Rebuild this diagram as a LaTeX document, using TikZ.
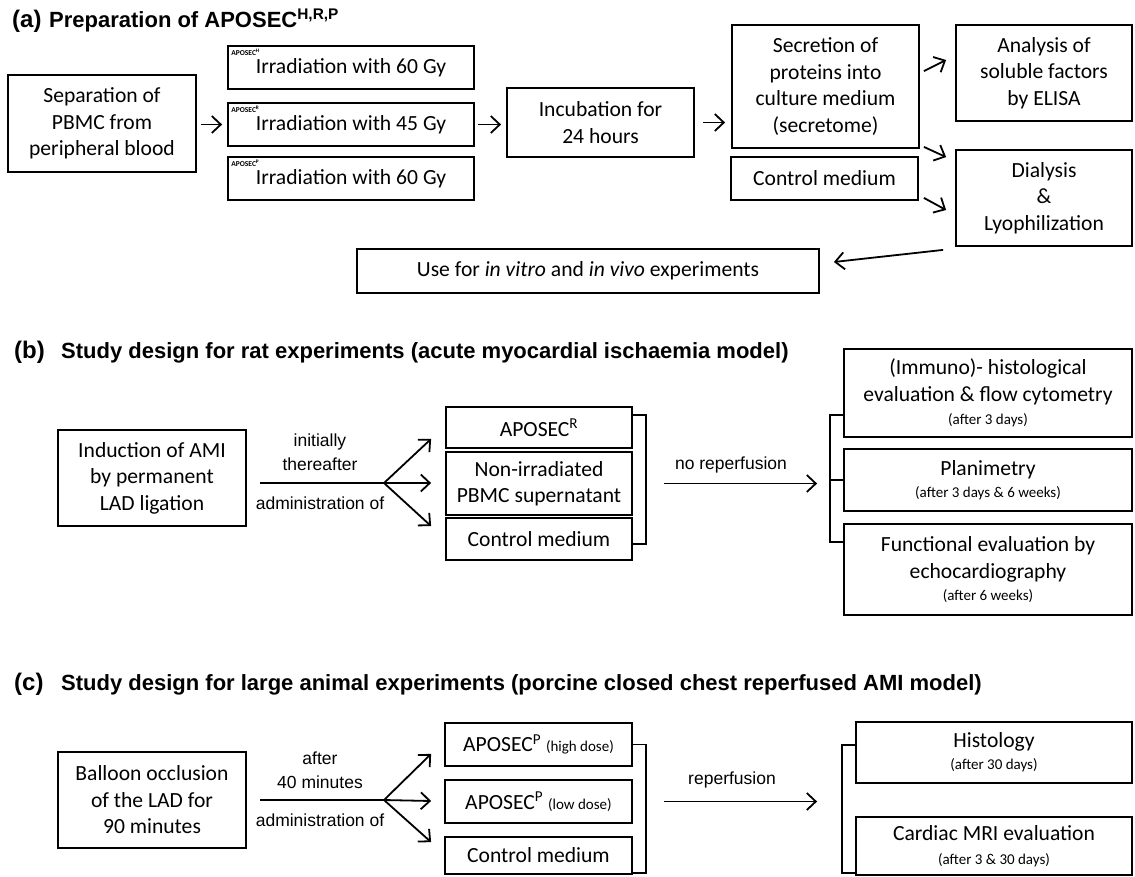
\documentclass[tikz,border=0pt]{standalone}
\usepackage{fontspec}
\setmainfont{Carlito}
\newfontfamily\arialfam{Liberation Sans}
\usetikzlibrary{arrows.meta,calc}
\newcommand\mainsz{\fontsize{21.6}{26.5}\selectfont}
\newcommand\smallsz{\fontsize{15}{18}\selectfont}
\newcommand\tinysz{\fontsize{7.5}{8}\selectfont}
\newcommand\labsz{\arialfam\fontsize{17.5}{24}\selectfont}
\newcommand\titlesz{\arialfam\bfseries\fontsize{22}{24}\selectfont}
\newcommand\tagsz{\arialfam\bfseries\fontsize{24}{26}\selectfont}
\begin{document}
\begin{tikzpicture}[x=1pt,y=-1pt,
  box/.style={draw, line width=1.8pt, inner sep=0pt, align=center, font=\mainsz},
  arr/.style={line width=1.8pt, -{Straight Barb[length=9pt,width=17pt]}},
  brk/.style={line width=1.8pt},
  plain/.style={line width=1.8pt},
  lbl/.style={font=\labsz, inner sep=0pt, align=center},
  tag/.style={font=\tagsz, inner sep=0pt, anchor=base west},
  ttl/.style={font=\titlesz, inner sep=0pt, anchor=base west},
  apo/.style={font=\tinysz\bfseries, inner sep=0pt, anchor=north west}]
\fill[white] (0,0) rectangle (1135,876);
\useasboundingbox (0,0) rectangle (1135,876);

% ---------------- (a) ----------------
\node[tag] (taga) at (12,27) {(a)};
\node[ttl] (ttla) at (49,27) {Preparation of APOSEC\textsuperscript{H,R,P}};

\node[box, minimum width=188pt, minimum height=97pt] (sep) at (102,123.5) {Separation of\\PBMC from\\peripheral blood};
\node[box, minimum width=246pt, minimum height=43pt] (irr1) at (351,67.5) {\raisebox{-2.5pt}{Irradiation with 60 Gy}};
\node[box, minimum width=246pt, minimum height=43pt] (irr2) at (351,124.5) {\raisebox{-2.5pt}{Irradiation with 45 Gy}};
\node[box, minimum width=246pt, minimum height=43pt] (irr3) at (351,178.5) {\raisebox{-2.5pt}{Irradiation with 60 Gy}};
\node[apo] (apo1) at ($(irr1.north west)+(4,4)$) {APOSEC\textsuperscript{H}};
\node[apo] (apo2) at ($(irr2.north west)+(4,4)$) {APOSEC\textsuperscript{R}};
\node[apo] (apo3) at ($(irr3.north west)+(4,4)$) {APOSEC\textsuperscript{P}};
\node[box, minimum width=187pt, minimum height=69pt] (incub) at (600.5,122.5) {Incubation for\\24 hours};
\node[box, minimum width=187pt, minimum height=123pt] (sec) at (825.5,86.5) {Secretion of\\proteins into\\culture medium\\(secretome)};
\node[box, minimum width=187pt, minimum height=43pt] (ctrl) at (824.5,178.5) {Control medium};
\node[box, minimum width=176pt, minimum height=96pt] (anal) at (1044,73) {Analysis of\\soluble factors\\by ELISA};
\node[box, minimum width=176pt, minimum height=96pt] (dial) at (1044,198) {Dialysis\\\&\\Lyophilization};
\node[box, minimum width=462pt, minimum height=44pt] (use) at (588,271) {Use for \textit{in vitro} and \textit{in vivo} experiments};

\draw[arr, shorten <=4pt, shorten >=5pt] (sep.east |- irr2.west) -- (irr2.west);
\draw[arr, shorten <=3pt, shorten >=5pt] (irr2.east) -- (irr2.east -| incub.west);
\draw[arr, shorten <=8pt, shorten >=6pt] (incub.east) -- (incub.east -| sec.west);
\draw[arr] ($(sec.north east)+(4,47)$) -- ($(anal.west)+(-9,-13)$);
\draw[arr] ($(sec.south east)+(4,-2)$) -- ($(dial.north west)+(-9,8)$);
\draw[arr] ($(ctrl.south east)+(5,-3)$) -- ($(dial.west)+(-9,12)$);
\draw[arr] ($(dial.south west)+(-12,3)$) -- ($(use.east)+(14,-9)$);

% ---------------- (b) ----------------
\node[tag] (tagb) at (14,358) {(b)};
\node[ttl] (ttlb) at (61,358) {Study design for rat experiments (acute myocardial ischaemia model)};

\node[box, minimum width=188pt, minimum height=96pt] (induct) at (152,478) {Induction of AMI\\by permanent\\LAD ligation};
\node[box, minimum width=186pt, minimum height=41pt] (b1) at (539,427.5) {APOSEC\textsuperscript{R}};
\node[box, minimum width=186pt, minimum height=63pt] (b2) at (539,483.5) {Non-irradiated\\PBMC supernatant};
\node[box, minimum width=186pt, minimum height=42pt] (b3) at (539,539) {Control medium};
\coordinate (bfork) at (384,483);
\draw[plain, shorten <=13pt] (induct.east |- bfork) -- (bfork);
\draw[arr] (bfork) -- ($(b1.south west)+(-14,-10)$);
\draw[arr] (bfork) -- ($(b2.west)+(-14,-0.5)$);
\draw[arr] (bfork) -- ($(b3.north west)+(-14,9)$);
\node[lbl] (bl1) at (320,452) {initially\\thereafter};
\node[lbl] (bl2) at (320,503) {administration of};
\draw[brk] ($(b1.north east)+(0,9)$) -- ++(13,0) |- ($(b3.south east)+(0,-17)$);

\node[box, minimum width=288pt, minimum height=88pt] (r1) at (988,393) {(Immuno)- histological\\evaluation \& flow cytometry\\[-3.5pt]{\smallsz (after 3 days)}};
\node[box, minimum width=288pt, minimum height=62pt] (r2) at (988,480) {Planimetry\\[-4.5pt]{\smallsz (after 3 days \& 6 weeks)}};
\node[box, minimum width=288pt, minimum height=91pt] (r3) at (988,569.5) {Functional evaluation by\\echocardiography\\[-4.5pt]{\smallsz (after 6 weeks)}};
\draw[brk] ($(r1.west)+(0,22)$) -- ++(-13,0) |- ($(r3.west)+(0,-27.5)$);
\draw[brk] (r2.west) -- ++(-13,0);
\draw[arr] ($(b2.east)+(31,0)$) -- ($(b2.east -| r2.west)+(-26,0)$);
\node[lbl] (bl3) at (731,465) {no reperfusion};

% ---------------- (c) ----------------
\node[tag] (tagc) at (14,690) {(c)};
\node[ttl] (ttlc) at (61,690) {Study design for large animal experiments (porcine closed chest reperfused AMI model)};

\node[box, minimum width=188pt, minimum height=96pt] (ball) at (152,800) {Balloon occlusion\\of the LAD for\\90 minutes};
\node[box, minimum width=187pt, minimum height=43pt] (c1) at (538.5,744.5) {APOSEC\textsuperscript{P} {\smallsz (high dose)}};
\node[box, minimum width=187pt, minimum height=43pt] (c2) at (538.5,801.5) {APOSEC\textsuperscript{P} {\smallsz (low dose)}};
\node[box, minimum width=187pt, minimum height=37pt] (c3) at (538.5,855.5) {\raisebox{-3pt}{Control medium}};
\coordinate (cfork) at (384,800);
\draw[plain, shorten <=13pt] (ball.east |- cfork) -- (cfork);
\draw[arr] (cfork) -- ($(c1.south west)+(-13,-13)$);
\draw[arr] (cfork) -- ($(c2.west)+(-13,-0.5)$);
\draw[arr] (cfork) -- ($(c3.north west)+(-13,6)$);
\node[lbl] (cl1) at (320,770) {after\\40 minutes};
\node[lbl] (cl2) at (320,820) {administration of};
\draw[brk] (c1.east) -- ++(13,0) |- ($(c3.south east)+(0,-2)$);

\node[box, minimum width=276pt, minimum height=61pt] (d1) at (994,752.5) {Histology\\[-4.5pt]{\smallsz (after 30 days)}};
\node[box, minimum width=276pt, minimum height=58pt] (d2) at (994,846) {Cardiac MRI evaluation\\[-2.5pt]{\smallsz (after 3 \& 30 days)}};
\draw[brk] ($(d1.west)+(0,-7.5)$) -- ++(-13,0) |- ($(d2.south west)+(0,-3)$);
\draw[arr] ($(c2.east)+(31,0)$) -- ($(c2.east -| d1.west)+(-38,0)$);
\node[lbl] (cl3) at (732,780) {reperfusion};
\end{tikzpicture}
\end{document}
